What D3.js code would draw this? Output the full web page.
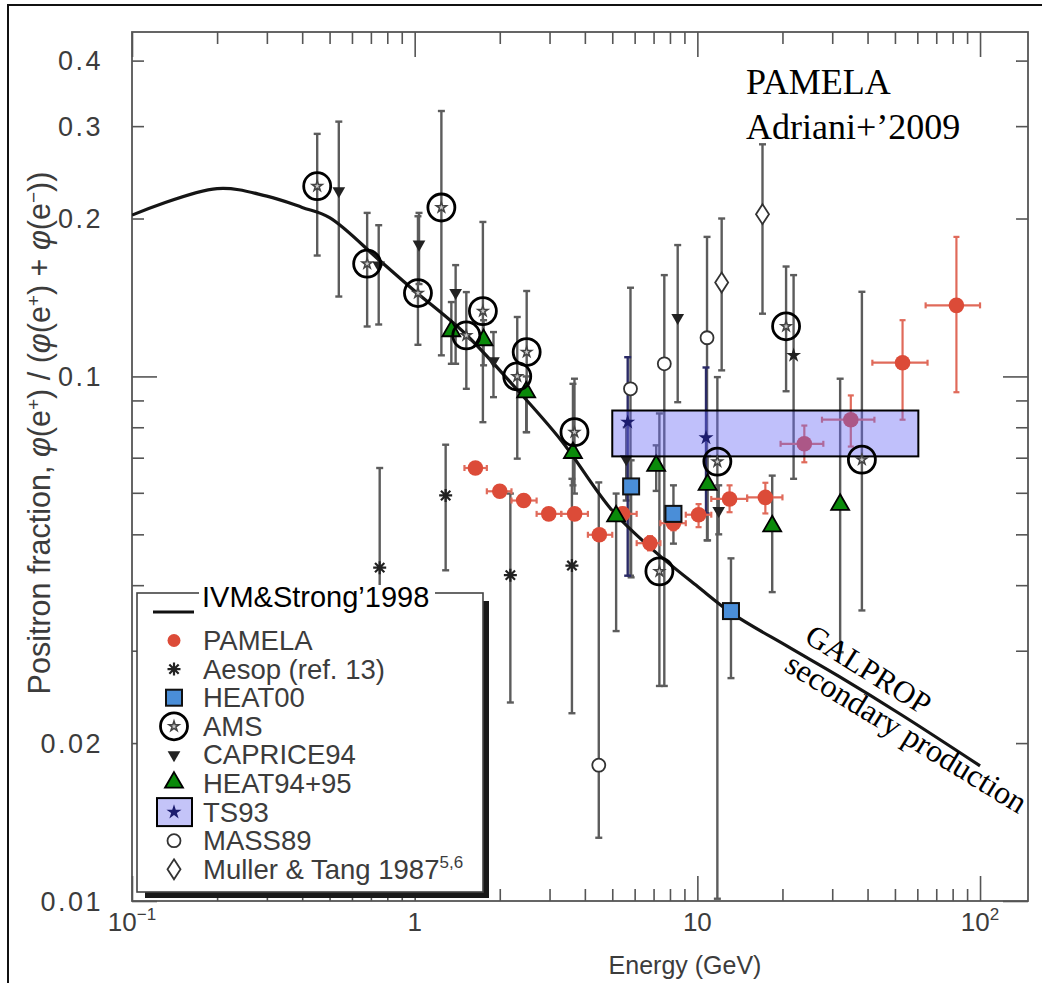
<!DOCTYPE html>
<html><head><meta charset="utf-8">
<script src="https://cdn.jsdelivr.net/npm/d3@7"></script>
<style>body{margin:0;background:#fff}svg{display:block}</style>
</head><body><svg id="c" width="1042" height="983"></svg>
<script>
// ---------- data ----------
const curveE = [0.1,0.2,0.3,0.4,0.5,0.75,1.0,1.5,2.2,3.3,5.0,7.0,10,13.3,21,31.7,53,100];
const curveV = [0.203,0.228,0.2206,0.210,0.2008,0.1665,0.1455,0.121,0.097,0.0755,0.0555,0.0466,0.0398,0.0353,0.0305,0.0268,0.0226,0.0181];

const pamelaE   = [1.64,2.0,2.43,2.98,3.68,4.5,5.44,6.8,8.23,10.1,13.0,17.4,23.9,34.9,53.2,82.5];
const pamelaV   = [0.0669,0.0604,0.058,0.0547,0.0547,0.0499,0.0547,0.0481,0.0525,0.0545,0.0584,0.0588,0.0744,0.0827,0.1062,0.1366];
const pamelaELo = [1.5,1.8,2.2,2.7,3.3,4.1,5.0,6.1,7.4,9.1,11.2,15,19.7,27.6,41.6,64.2];
const pamelaEHi = [1.8,2.2,2.7,3.3,4.1,5.0,6.1,7.4,9.1,11.2,15,20,27.9,42.3,65.2,100];
const pamelaVLo = [0.0655,0.0592,0.0569,0.0536,0.0535,0.0487,0.0532,0.0466,0.0509,0.0516,0.0551,0.0548,0.0686,0.0735,0.0827,0.0933];
const pamelaVHi = [0.0683,0.0616,0.0591,0.0558,0.0559,0.0511,0.0562,0.0496,0.0543,0.0571,0.062,0.0627,0.0806,0.092,0.128,0.1845];

const aesopE  = [0.752,1.287,2.18,3.60];
const aesopV  = [0.0432,0.0593,0.0418,0.0436];
const aesopLo = [0.025,0.0427,0.0239,0.0228];
const aesopHi = [0.0669,0.0741,0.0598,0.0638];

const heat00E  = [5.83,8.23,13.15];
const heat00V  = [0.0617,0.0547,0.0357];
const heat00Lo = [0.0414,0.048,0.0266];
const heat00Hi = [0.0692,0.062,0.045];

const amsE  = [0.452,0.679,1.027,1.243,1.523,1.743,2.306,2.49,3.675,7.34,11.77,20.6,38.2];
const amsV  = [0.2305,0.164,0.1442,0.2099,0.1197,0.1332,0.100,0.1113,0.0783,0.0425,0.0688,0.1246,0.0694];
const amsLo = [0.170,0.1245,0.1149,0.1097,0.0947,0.0818,0.0697,0.0783,0.0598,0.0257,0.0101,0.0937,0.0358];
const amsHi = [0.290,0.205,0.202,0.3206,0.1448,0.197,0.1298,0.1455,0.099,0.085,0.0997,0.162,0.145];

const capriceE  = [0.539,0.746,1.036,1.396,1.90,5.6,8.52,11.9];
const capriceV  = [0.2258,0.163,0.1786,0.1445,0.107,0.0696,0.1294,0.0555];
const capriceLo = [0.142,0.1256,0.150,0.1057,0.0913,0.058,0.0893,0.050];
const capriceHi = [0.306,0.1942,0.205,0.163,0.1215,0.080,0.178,0.062];

const heat9495E  = [1.348,1.753,2.48,3.63,5.16,7.15,10.87,18.4,32.0];
const heat9495V  = [0.1215,0.1168,0.0929,0.0712,0.0539,0.0673,0.0619,0.0516,0.0567];
const heat9495Lo = [0.1057,0.105,0.0783,0.062,0.0327,0.0605,0.0487,0.0388,0.0298];
const heat9495Hi = [0.1386,0.128,0.100,0.0968,0.0598,0.0739,0.0705,0.0647,0.099];

const ts93E  = [5.67,10.73,21.9];
const ts93V  = [0.0818,0.0764,0.1097];
const ts93Lo = [0.0417,0.0548,0.0638];
const ts93Hi = [0.1088,0.104,0.156];
const ts93BoxE = [5.0,60.5];
const ts93BoxV = [0.0704,0.0861];

const mass89E  = [4.48,5.80,7.64,10.82];
const mass89V  = [0.01815,0.0947,0.1057,0.1185];
const mass89Lo = [0.0132,0.0417,0.0257,0.0487];
const mass89Hi = [0.0628,0.1476,0.156,0.1845];

const mullerE  = [12.19,17.0];
const mullerV  = [0.151,0.2038];
const mullerLo = [0.1027,0.1317];
const mullerHi = [0.200,0.277];

const xMajorTicks = [0.1,1,10,100];
const xMinorTicks = [0.2,0.3,0.4,0.5,0.6,0.7,0.8,0.9,2,3,4,5,6,7,8,9,20,30,40,50,60,70,80,90];
const yMajorTicks = [0.01,0.1];
const yMinorTicks = [0.02,0.03,0.04,0.05,0.06,0.07,0.08,0.09,0.2,0.3,0.4];
const yTickLabels = [0.4,0.3,0.2,0.1,0.02,0.01];
const xTickLabels = [["10","−1"],["1",""],["10",""],["10","2"]];
const legendNames = ["PAMELA","Aesop (ref. 13)","HEAT00","AMS","CAPRICE94","HEAT94+95","TS93","MASS89","Muller & Tang 1987"];

// ---------- layout ----------
const L=132,R=1028,T=32,B=901;
const x = d3.scaleLog().domain([0.1,147.8]).range([L,R]);
const y = d3.scaleLog().domain([0.01,0.4535]).range([B,T]);
const SANS = "'Liberation Sans', Arial, Helvetica, sans-serif";
const SERIF = "'Liberation Serif', 'Times New Roman', serif";
const svg = d3.select("#c");
svg.append("rect").attr("width",1042).attr("height",983).attr("fill","#fff");
svg.append("path").attr("d","M8,983V5H1042").attr("fill","none").attr("stroke","#111").attr("stroke-width",2);

svg.append("defs").append("clipPath").attr("id","pc").append("rect")
  .attr("x",L).attr("y",T).attr("width",R-L).attr("height",B-T);

// ---------- axes ----------
const axCol="#555";
function styleAxis(g){ g.select(".domain").remove(); g.selectAll("line").attr("stroke",axCol).attr("stroke-width",1.6); }
svg.append("g").attr("transform",`translate(0,${B})`).call(d3.axisTop(x).tickValues(xMinorTicks).tickSize(12).tickFormat("")).call(styleAxis);
svg.append("g").attr("transform",`translate(0,${B})`).call(d3.axisTop(x).tickValues(xMajorTicks).tickSize(25).tickFormat("")).call(styleAxis);
svg.append("g").attr("transform",`translate(0,${T})`).call(d3.axisBottom(x).tickValues(xMinorTicks).tickSize(12).tickFormat("")).call(styleAxis);
svg.append("g").attr("transform",`translate(0,${T})`).call(d3.axisBottom(x).tickValues(xMajorTicks).tickSize(25).tickFormat("")).call(styleAxis);
svg.append("g").attr("transform",`translate(${L},0)`).call(d3.axisRight(y).tickValues(yMinorTicks).tickSize(12).tickFormat("")).call(styleAxis);
svg.append("g").attr("transform",`translate(${L},0)`).call(d3.axisRight(y).tickValues(yMajorTicks).tickSize(25).tickFormat("")).call(styleAxis);
svg.append("g").attr("transform",`translate(${R},0)`).call(d3.axisLeft(y).tickValues(yMinorTicks).tickSize(12).tickFormat("")).call(styleAxis);
svg.append("g").attr("transform",`translate(${R},0)`).call(d3.axisLeft(y).tickValues(yMajorTicks).tickSize(25).tickFormat("")).call(styleAxis);
svg.append("rect").attr("x",L).attr("y",T).attr("width",R-L).attr("height",B-T)
  .attr("fill","none").attr("stroke",axCol).attr("stroke-width",1.8);

const txtCol="#3c3c3c";
yTickLabels.forEach(v=>{
  svg.append("text").attr("x",103).attr("y",y(v)+9.5).attr("text-anchor","end")
    .attr("font-family",SANS).attr("font-size",27).attr("fill",txtCol).attr("letter-spacing",2.5)
    .text(v.toString());
});
xMajorTicks.forEach((v,i)=>{
  const t = svg.append("text").attr("x",x(v)).attr("y",931).attr("text-anchor","middle")
    .attr("font-family",SANS).attr("font-size",26).attr("fill",txtCol);
  t.append("tspan").text(xTickLabels[i][0]);
  if(xTickLabels[i][1]) t.append("tspan").attr("dy",-11).attr("font-size",17).text(xTickLabels[i][1]);
});
svg.append("text").attr("x",685).attr("y",974).attr("text-anchor","middle")
  .attr("font-family",SANS).attr("font-size",25).attr("fill",txtCol).text("Energy (GeV)");

// y label
const yl = svg.append("text").attr("transform","translate(50,433) rotate(-90)").attr("text-anchor","middle")
  .attr("font-family",SANS).attr("font-size",30.5).attr("fill",txtCol);
function phiE(sign){
  yl.append("tspan").attr("font-style","italic").text("φ");
  yl.append("tspan").text("(e");
  yl.append("tspan").attr("dy",-10).attr("font-size",19).text(sign);
  yl.append("tspan").attr("dy",10).text(")");
}
yl.append("tspan").text("Positron fraction, ");
phiE("+"); yl.append("tspan").text(" / (");
phiE("+"); yl.append("tspan").text(" + ");
phiE("−"); yl.append("tspan").text(")");

// ---------- data layer ----------
const P = svg.append("g").attr("clip-path","url(#pc)");
const barCol="#5c5c5c";
function vbars(E,lo,hi,col,w,cap){
  const g=P.append("g").attr("stroke",col).attr("stroke-width",w).attr("fill","none");
  E.forEach((e,i)=>{
    const xx=x(e);
    g.append("line").attr("x1",xx).attr("x2",xx).attr("y1",y(lo[i])).attr("y2",y(hi[i]));
    g.append("line").attr("x1",xx-cap).attr("x2",xx+cap).attr("y1",y(lo[i])).attr("y2",y(lo[i]));
    g.append("line").attr("x1",xx-cap).attr("x2",xx+cap).attr("y1",y(hi[i])).attr("y2",y(hi[i]));
  });
}
vbars(aesopE,aesopLo,aesopHi,barCol,2.4,3.5);
vbars(mass89E,mass89Lo,mass89Hi,barCol,2.4,3.5);
vbars(mullerE,mullerLo,mullerHi,barCol,2.4,3.5);
vbars(capriceE,capriceLo,capriceHi,barCol,2.4,3.5);
vbars(amsE,amsLo,amsHi,barCol,2.4,3.5);
vbars(heat9495E,heat9495Lo,heat9495Hi,barCol,2.4,3.5);
vbars(heat00E,heat00Lo,heat00Hi,barCol,2.4,3.5);
vbars(ts93E.slice(0,2),ts93Lo.slice(0,2),ts93Hi.slice(0,2),"#2a2a66",2.4,3.5);
vbars(ts93E.slice(2),ts93Lo.slice(2),ts93Hi.slice(2),barCol,2.4,3.5);

// curve
const line = d3.line().x(d=>x(d[0])).y(d=>y(d[1])).curve(d3.curveCatmullRom.alpha(0.5));
P.append("path").attr("d",line(curveE.map((e,i)=>[e,curveV[i]])))
  .attr("fill","none").attr("stroke","#151515").attr("stroke-width",3.2).attr("stroke-linejoin","round");

// PAMELA
const red="#dc4b38", redBar="#e06a5a";
const pg=P.append("g").attr("stroke",redBar).attr("stroke-width",2.2);
pamelaE.forEach((e,i)=>{
  const xx=x(e), yy=y(pamelaV[i]);
  pg.append("line").attr("x1",x(pamelaELo[i])).attr("x2",x(pamelaEHi[i])).attr("y1",yy).attr("y2",yy);
  pg.append("line").attr("x1",x(pamelaELo[i])).attr("x2",x(pamelaELo[i])).attr("y1",yy-3).attr("y2",yy+3);
  pg.append("line").attr("x1",x(pamelaEHi[i])).attr("x2",x(pamelaEHi[i])).attr("y1",yy-3).attr("y2",yy+3);
  pg.append("line").attr("x1",xx).attr("x2",xx).attr("y1",y(pamelaVLo[i])).attr("y2",y(pamelaVHi[i]));
  pg.append("line").attr("x1",xx-3).attr("x2",xx+3).attr("y1",y(pamelaVLo[i])).attr("y2",y(pamelaVLo[i]));
  pg.append("line").attr("x1",xx-3).attr("x2",xx+3).attr("y1",y(pamelaVHi[i])).attr("y2",y(pamelaVHi[i]));
});
P.append("g").selectAll("circle").data(pamelaE).join("circle")
  .attr("cx",d=>x(d)).attr("cy",(d,i)=>y(pamelaV[i])).attr("r",7.8).attr("fill",red);

// symbol helpers
const sym=(type,size)=>d3.symbol().type(type).size(size)();
function drawAesop(g,xx,yy){
  const r=6.5, d=r*0.72;
  g.append("path").attr("d",`M${xx-r},${yy}H${xx+r}M${xx},${yy-r}V${yy+r}M${xx-d},${yy-d}L${xx+d},${yy+d}M${xx-d},${yy+d}L${xx+d},${yy-d}`)
   .attr("stroke","#222").attr("stroke-width",2.2).attr("fill","none");
}
function drawHeat00(g,xx,yy){ g.append("rect").attr("x",xx-8).attr("y",yy-8).attr("width",16).attr("height",16).attr("fill","#4a8ed8").attr("stroke","#111").attr("stroke-width",2); }
function drawAMS(g,xx,yy){
  g.append("path").attr("transform",`translate(${xx},${yy})`).attr("d",sym(d3.symbolStar,32)).attr("fill","#c8c8c8").attr("stroke","#444").attr("stroke-width",1.5);
  g.append("circle").attr("cx",xx).attr("cy",yy).attr("r",13.5).attr("fill","none").attr("stroke","#000").attr("stroke-width",2.8);
}
function drawCaprice(g,xx,yy){ g.append("path").attr("transform",`translate(${xx},${yy}) rotate(180)`).attr("d",sym(d3.symbolTriangle,70)).attr("fill","#222"); }
function drawHeat94(g,xx,yy){ g.append("path").attr("transform",`translate(${xx},${yy-1})`).attr("d",sym(d3.symbolTriangle,140)).attr("fill","#0a8a0a").attr("stroke","#000").attr("stroke-width",1.8); }
function drawTS(g,xx,yy,c){ g.append("path").attr("transform",`translate(${xx},${yy})`).attr("d",sym(d3.symbolStar,70)).attr("fill",c||"#1c1c6e"); }
function drawMass(g,xx,yy){ g.append("circle").attr("cx",xx).attr("cy",yy).attr("r",6.5).attr("fill","#fff").attr("stroke","#333").attr("stroke-width",1.8); }
function drawMuller(g,xx,yy){ g.append("path").attr("d",`M${xx},${yy-10}L${xx+6.5},${yy}L${xx},${yy+10}L${xx-6.5},${yy}Z`).attr("fill","#fff").attr("stroke","#333").attr("stroke-width",1.8); }

const S=P.append("g");
aesopE.forEach((e,i)=>drawAesop(S,x(e),y(aesopV[i])));
mass89E.forEach((e,i)=>drawMass(S,x(e),y(mass89V[i])));
mullerE.forEach((e,i)=>drawMuller(S,x(e),y(mullerV[i])));
capriceE.forEach((e,i)=>drawCaprice(S,x(e),y(capriceV[i])));
heat9495E.forEach((e,i)=>drawHeat94(S,x(e),y(heat9495V[i])));
heat00E.forEach((e,i)=>drawHeat00(S,x(e),y(heat00V[i])));

// TS93 box (translucent, over the data)
P.append("rect").attr("x",x(ts93BoxE[0])).attr("y",y(ts93BoxV[1]))
  .attr("width",x(ts93BoxE[1])-x(ts93BoxE[0])).attr("height",y(ts93BoxV[0])-y(ts93BoxV[1]))
  .attr("fill","rgba(105,105,245,0.42)").attr("stroke","#000").attr("stroke-width",2);
const TS=P.append("g");
ts93E.forEach((e,i)=>drawTS(TS,x(e),y(ts93V[i]), i==2?"#222":"#1c1c6e"));
const A=P.append("g");
amsE.forEach((e,i)=>drawAMS(A,x(e),y(amsV[i])));

// annotations
svg.append("text").attr("x",746).attr("y",94).attr("font-family",SERIF).attr("font-size",36).attr("fill","#000").text("PAMELA");
svg.append("text").attr("x",746).attr("y",139).attr("font-family",SERIF).attr("font-size",36).attr("fill","#000").text("Adriani+’2009");
svg.append("text").attr("transform","translate(803,641) rotate(32)").attr("font-family",SERIF).attr("font-size",31).attr("fill","#000").text("GALPROP");
svg.append("text").attr("transform","translate(783,670) rotate(31.5)").attr("font-family",SERIF).attr("font-size",32).attr("fill","#000").text("secondary production");

// ---------- legend ----------
const lg=svg.append("g");
lg.append("rect").attr("x",145).attr("y",892).attr("width",344).attr("height",6).attr("fill","#1a1a1a");
lg.append("rect").attr("x",483).attr("y",601).attr("width",6).attr("height",297).attr("fill","#1a1a1a");
lg.append("rect").attr("x",137).attr("y",593).attr("width",346).attr("height",299).attr("fill","#fff").attr("stroke","#444").attr("stroke-width",1.6);
lg.append("rect").attr("x",199).attr("y",585).attr("width",236).attr("height",14).attr("fill","#fff");
lg.append("text").attr("x",202).attr("y",607).attr("font-family",SANS).attr("font-size",29).attr("fill","#000").text("IVM&Strong’1998");
lg.append("line").attr("x1",153).attr("x2",194).attr("y1",612).attr("y2",612).attr("stroke","#111").attr("stroke-width",3);
const sx=174, tx=203, y0=640.5, dy=28.6;
legendNames.forEach((n,i)=>{
  const yy=y0+i*dy;
  const t=lg.append("text").attr("x",tx).attr("y",yy+9.5).attr("font-family",SANS).attr("font-size",27.5).attr("fill",txtCol).text(n);
  if(i===8) t.append("tspan").attr("dy",-11).attr("font-size",17).text("5,6");
  if(i===0) lg.append("circle").attr("cx",sx).attr("cy",yy).attr("r",6.5).attr("fill",red);
  if(i===1) drawAesop(lg,sx,yy);
  if(i===2) drawHeat00(lg,sx,yy);
  if(i===3) drawAMS(lg,sx,yy);
  if(i===4) drawCaprice(lg,sx,yy);
  if(i===5) drawHeat94(lg,sx,yy);
  if(i===6){ lg.append("rect").attr("x",sx-17).attr("y",yy-14).attr("width",35).attr("height",28).attr("fill","#c4c4f8").attr("stroke","#000").attr("stroke-width",2); drawTS(lg,sx,yy); }
  if(i===7) drawMass(lg,sx,yy);
  if(i===8) drawMuller(lg,sx,yy);
});
</script></body></html>
